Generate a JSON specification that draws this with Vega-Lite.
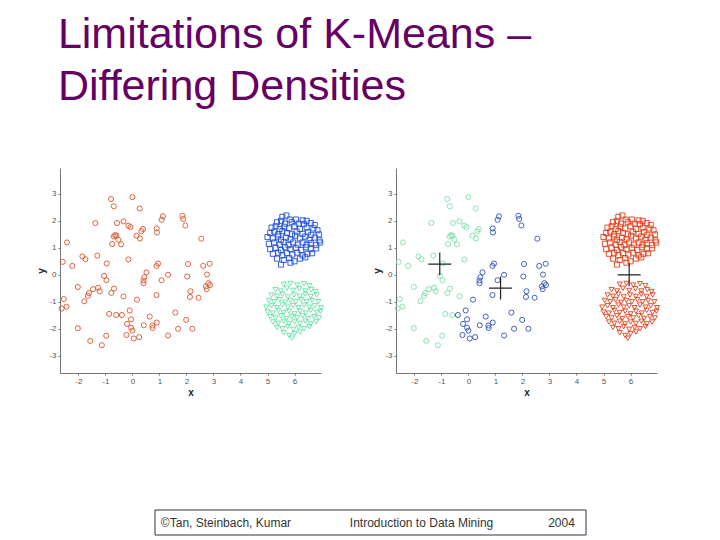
{
  "$schema": "https://vega.github.io/schema/vega-lite/v6.json",
  "background": "white",
  "padding": {"left": 36, "top": 14, "right": 5, "bottom": 5},
  "title": {
    "text": ["Limitations of K-Means –", "Differing Densities"],
    "anchor": "start",
    "font": "Liberation Sans",
    "fontSize": 43,
    "fontWeight": "normal",
    "color": "#660066",
    "lineHeight": 52,
    "dx": 21,
    "offset": 59
  },
  "config": {
    "locale": {"number": {"decimal": ".", "thousands": ",", "grouping": [3], "currency": ["$", ""], "minus": "-"}},
    "view": {"stroke": null},
    "axis": {
      "grid": false,
      "domainColor": "#777777",
      "tickColor": "#777777",
      "tickSize": 2,
      "labelPadding": 2,
      "labelOverlap": false,
      "labelFont": "Liberation Sans",
      "labelFontSize": 8,
      "labelColor": "#555555",
      "titleFont": "Liberation Sans",
      "titleFontSize": 10,
      "titleFontWeight": "bold",
      "titleColor": "#222222",
      "titlePadding": 2
    }
  },
  "datasets": {
    "pts": [
      {"x": -1.06, "y": 0.40, "s": "centroid", "k": "X"},
      {"x": 1.19, "y": -0.49, "s": "centroid", "k": "X"},
      {"x": 5.95, "y": 0.0, "s": "centroid", "k": "X"},
      {"x": -0.79, "y": 2.81, "s": "circle", "k": "A"},
      {"x": -0.69, "y": 2.54, "s": "circle", "k": "A"},
      {"x": 0.0, "y": 2.88, "s": "circle", "k": "A"},
      {"x": 0.27, "y": 2.46, "s": "circle", "k": "A"},
      {"x": -1.37, "y": 1.92, "s": "circle", "k": "A"},
      {"x": -0.57, "y": 1.92, "s": "circle", "k": "A"},
      {"x": -0.33, "y": 1.98, "s": "circle", "k": "A"},
      {"x": -0.15, "y": 1.82, "s": "circle", "k": "A"},
      {"x": -0.07, "y": 1.77, "s": "circle", "k": "A"},
      {"x": 0.39, "y": 1.70, "s": "circle", "k": "A"},
      {"x": 0.33, "y": 1.62, "s": "circle", "k": "A"},
      {"x": 0.15, "y": 1.45, "s": "circle", "k": "A"},
      {"x": 0.28, "y": 1.35, "s": "circle", "k": "A"},
      {"x": 0.9, "y": 1.72, "s": "circle", "k": "B"},
      {"x": 0.91, "y": 1.57, "s": "circle", "k": "B"},
      {"x": 1.13, "y": 2.17, "s": "circle", "k": "B"},
      {"x": 1.08, "y": 2.04, "s": "circle", "k": "B"},
      {"x": 1.85, "y": 2.19, "s": "circle", "k": "B"},
      {"x": 1.88, "y": 2.07, "s": "circle", "k": "B"},
      {"x": 1.96, "y": 1.83, "s": "circle", "k": "B"},
      {"x": 2.55, "y": 1.34, "s": "circle", "k": "B"},
      {"x": -0.64, "y": 1.47, "s": "circle", "k": "A"},
      {"x": -0.59, "y": 1.45, "s": "circle", "k": "A"},
      {"x": -0.69, "y": 1.42, "s": "circle", "k": "A"},
      {"x": -0.52, "y": 1.30, "s": "circle", "k": "A"},
      {"x": -0.42, "y": 1.13, "s": "circle", "k": "A"},
      {"x": -0.75, "y": 1.14, "s": "circle", "k": "A"},
      {"x": -2.42, "y": 1.20, "s": "circle", "k": "A"},
      {"x": -2.58, "y": 0.48, "s": "circle", "k": "A"},
      {"x": -2.23, "y": 0.33, "s": "circle", "k": "A"},
      {"x": -1.85, "y": 0.68, "s": "circle", "k": "A"},
      {"x": -1.74, "y": 0.58, "s": "circle", "k": "A"},
      {"x": -1.30, "y": 0.71, "s": "circle", "k": "A"},
      {"x": -0.95, "y": 0.42, "s": "circle", "k": "A"},
      {"x": -0.15, "y": 0.57, "s": "circle", "k": "A"},
      {"x": 0.89, "y": 0.33, "s": "circle", "k": "B"},
      {"x": 0.95, "y": 0.42, "s": "circle", "k": "B"},
      {"x": 0.52, "y": 0.09, "s": "circle", "k": "B"},
      {"x": 0.44, "y": -0.09, "s": "circle", "k": "B"},
      {"x": 0.41, "y": -0.21, "s": "circle", "k": "B"},
      {"x": 0.41, "y": -0.31, "s": "circle", "k": "B"},
      {"x": 1.32, "y": 0.0, "s": "circle", "k": "B"},
      {"x": 1.08, "y": -0.20, "s": "circle", "k": "B"},
      {"x": 2.06, "y": 0.40, "s": "circle", "k": "B"},
      {"x": 2.03, "y": -0.06, "s": "circle", "k": "B"},
      {"x": 2.62, "y": 0.33, "s": "circle", "k": "B"},
      {"x": 2.86, "y": 0.41, "s": "circle", "k": "B"},
      {"x": 2.76, "y": 0.01, "s": "circle", "k": "B"},
      {"x": 2.81, "y": -0.31, "s": "circle", "k": "B"},
      {"x": 2.72, "y": -0.43, "s": "circle", "k": "B"},
      {"x": 2.75, "y": -0.53, "s": "circle", "k": "B"},
      {"x": 2.87, "y": -0.38, "s": "circle", "k": "B"},
      {"x": -1.05, "y": -0.04, "s": "circle", "k": "A"},
      {"x": -0.96, "y": -0.20, "s": "circle", "k": "A"},
      {"x": -2.02, "y": -0.45, "s": "circle", "k": "A"},
      {"x": -1.46, "y": -0.53, "s": "circle", "k": "A"},
      {"x": -1.27, "y": -0.48, "s": "circle", "k": "A"},
      {"x": -1.21, "y": -0.61, "s": "circle", "k": "A"},
      {"x": -1.61, "y": -0.68, "s": "circle", "k": "A"},
      {"x": -1.65, "y": -0.78, "s": "circle", "k": "A"},
      {"x": -1.78, "y": -0.98, "s": "circle", "k": "A"},
      {"x": -0.68, "y": -0.51, "s": "circle", "k": "A"},
      {"x": -0.78, "y": -0.67, "s": "circle", "k": "A"},
      {"x": -0.33, "y": -0.80, "s": "circle", "k": "A"},
      {"x": -2.54, "y": -0.90, "s": "circle", "k": "A"},
      {"x": -2.44, "y": -1.18, "s": "circle", "k": "A"},
      {"x": -2.62, "y": -1.25, "s": "circle", "k": "A"},
      {"x": 0.17, "y": -0.92, "s": "circle", "k": "B"},
      {"x": 0.89, "y": -0.75, "s": "circle", "k": "B"},
      {"x": 2.15, "y": -0.61, "s": "circle", "k": "B"},
      {"x": 2.13, "y": -0.82, "s": "circle", "k": "B"},
      {"x": 2.45, "y": -0.85, "s": "circle", "k": "B"},
      {"x": -0.86, "y": -1.45, "s": "circle", "k": "A"},
      {"x": -0.60, "y": -1.49, "s": "circle", "k": "A"},
      {"x": -0.39, "y": -1.49, "s": "circle", "k": "B"},
      {"x": -0.10, "y": -1.32, "s": "circle", "k": "B"},
      {"x": -0.05, "y": -1.65, "s": "circle", "k": "B"},
      {"x": 0.64, "y": -1.55, "s": "circle", "k": "B"},
      {"x": 1.59, "y": -1.40, "s": "circle", "k": "B"},
      {"x": -0.20, "y": -1.82, "s": "circle", "k": "B"},
      {"x": -0.05, "y": -1.96, "s": "circle", "k": "B"},
      {"x": 0.0, "y": -2.07, "s": "circle", "k": "B"},
      {"x": 0.42, "y": -1.87, "s": "circle", "k": "B"},
      {"x": 0.74, "y": -1.88, "s": "circle", "k": "B"},
      {"x": 0.90, "y": -1.77, "s": "circle", "k": "B"},
      {"x": 0.75, "y": -1.97, "s": "circle", "k": "B"},
      {"x": 1.99, "y": -1.67, "s": "circle", "k": "B"},
      {"x": 1.69, "y": -2.0, "s": "circle", "k": "B"},
      {"x": 2.22, "y": -2.0, "s": "circle", "k": "B"},
      {"x": -2.02, "y": -1.98, "s": "circle", "k": "A"},
      {"x": -0.97, "y": -2.26, "s": "circle", "k": "A"},
      {"x": -0.22, "y": -2.23, "s": "circle", "k": "B"},
      {"x": 0.25, "y": -2.31, "s": "circle", "k": "B"},
      {"x": 0.05, "y": -2.36, "s": "circle", "k": "B"},
      {"x": 1.32, "y": -2.25, "s": "circle", "k": "B"},
      {"x": -1.56, "y": -2.45, "s": "circle", "k": "A"},
      {"x": -1.13, "y": -2.61, "s": "circle", "k": "A"},

      {"x": 5.55, "y": 2.15, "s": "square", "k": "C"},
      {"x": 5.7, "y": 2.2, "s": "square", "k": "C"},
      {"x": 5.82, "y": 2.05, "s": "square", "k": "C"},
      {"x": 6.05, "y": 2.05, "s": "square", "k": "C"},
      {"x": 6.3, "y": 2.02, "s": "square", "k": "C"},
      {"x": 6.45, "y": 2.0, "s": "square", "k": "C"},
      {"x": 5.35, "y": 1.95, "s": "square", "k": "C"},
      {"x": 5.5, "y": 2.0, "s": "square", "k": "C"},
      {"x": 5.65, "y": 1.9, "s": "square", "k": "C"},
      {"x": 5.9, "y": 1.95, "s": "square", "k": "C"},
      {"x": 6.15, "y": 1.9, "s": "square", "k": "C"},
      {"x": 6.35, "y": 1.88, "s": "square", "k": "C"},
      {"x": 6.6, "y": 1.92, "s": "square", "k": "C"},
      {"x": 6.75, "y": 1.85, "s": "square", "k": "C"},
      {"x": 5.15, "y": 1.75, "s": "square", "k": "C"},
      {"x": 5.3, "y": 1.8, "s": "square", "k": "C"},
      {"x": 5.45, "y": 1.7, "s": "square", "k": "C"},
      {"x": 5.62, "y": 1.78, "s": "square", "k": "C"},
      {"x": 5.8, "y": 1.72, "s": "square", "k": "C"},
      {"x": 6.0, "y": 1.8, "s": "square", "k": "C"},
      {"x": 6.2, "y": 1.7, "s": "square", "k": "C"},
      {"x": 6.45, "y": 1.75, "s": "square", "k": "C"},
      {"x": 6.7, "y": 1.72, "s": "square", "k": "C"},
      {"x": 6.85, "y": 1.65, "s": "square", "k": "C"},
      {"x": 5.1, "y": 1.55, "s": "square", "k": "C"},
      {"x": 5.25, "y": 1.6, "s": "square", "k": "C"},
      {"x": 5.4, "y": 1.5, "s": "square", "k": "C"},
      {"x": 5.55, "y": 1.62, "s": "square", "k": "C"},
      {"x": 5.72, "y": 1.55, "s": "square", "k": "C"},
      {"x": 5.9, "y": 1.5, "s": "square", "k": "C"},
      {"x": 6.08, "y": 1.6, "s": "square", "k": "C"},
      {"x": 6.3, "y": 1.52, "s": "square", "k": "C"},
      {"x": 6.5, "y": 1.58, "s": "square", "k": "C"},
      {"x": 6.62, "y": 1.48, "s": "square", "k": "C"},
      {"x": 6.9, "y": 1.5, "s": "square", "k": "C"},
      {"x": 5.0, "y": 1.4, "s": "square", "k": "C"},
      {"x": 5.2, "y": 1.35, "s": "square", "k": "C"},
      {"x": 5.38, "y": 1.42, "s": "square", "k": "C"},
      {"x": 5.5, "y": 1.3, "s": "square", "k": "C"},
      {"x": 5.68, "y": 1.38, "s": "square", "k": "C"},
      {"x": 5.85, "y": 1.32, "s": "square", "k": "C"},
      {"x": 6.02, "y": 1.45, "s": "square", "k": "C"},
      {"x": 6.2, "y": 1.35, "s": "square", "k": "C"},
      {"x": 6.4, "y": 1.42, "s": "square", "k": "C"},
      {"x": 6.55, "y": 1.3, "s": "square", "k": "C"},
      {"x": 6.75, "y": 1.38, "s": "square", "k": "C"},
      {"x": 6.92, "y": 1.28, "s": "square", "k": "C"},
      {"x": 5.05, "y": 1.15, "s": "square", "k": "C"},
      {"x": 5.25, "y": 1.2, "s": "square", "k": "C"},
      {"x": 5.45, "y": 1.12, "s": "square", "k": "C"},
      {"x": 5.6, "y": 1.22, "s": "square", "k": "C"},
      {"x": 5.78, "y": 1.1, "s": "square", "k": "C"},
      {"x": 5.95, "y": 1.2, "s": "square", "k": "C"},
      {"x": 6.12, "y": 1.12, "s": "square", "k": "C"},
      {"x": 6.3, "y": 1.2, "s": "square", "k": "C"},
      {"x": 6.45, "y": 1.12, "s": "square", "k": "C"},
      {"x": 6.6, "y": 1.18, "s": "square", "k": "C"},
      {"x": 6.8, "y": 1.1, "s": "square", "k": "C"},
      {"x": 6.95, "y": 1.2, "s": "square", "k": "C"},
      {"x": 5.1, "y": 0.95, "s": "square", "k": "C"},
      {"x": 5.3, "y": 1.0, "s": "square", "k": "C"},
      {"x": 5.5, "y": 0.92, "s": "square", "k": "C"},
      {"x": 5.65, "y": 1.02, "s": "square", "k": "C"},
      {"x": 5.85, "y": 0.95, "s": "square", "k": "C"},
      {"x": 6.05, "y": 1.0, "s": "square", "k": "C"},
      {"x": 6.25, "y": 0.92, "s": "square", "k": "C"},
      {"x": 6.42, "y": 1.02, "s": "square", "k": "C"},
      {"x": 6.6, "y": 0.95, "s": "square", "k": "C"},
      {"x": 6.8, "y": 0.98, "s": "square", "k": "C"},
      {"x": 5.2, "y": 0.78, "s": "square", "k": "C"},
      {"x": 5.4, "y": 0.82, "s": "square", "k": "C"},
      {"x": 5.55, "y": 0.72, "s": "square", "k": "C"},
      {"x": 5.72, "y": 0.8, "s": "square", "k": "C"},
      {"x": 5.92, "y": 0.75, "s": "square", "k": "C"},
      {"x": 6.1, "y": 0.82, "s": "square", "k": "C"},
      {"x": 6.3, "y": 0.72, "s": "square", "k": "C"},
      {"x": 6.48, "y": 0.78, "s": "square", "k": "C"},
      {"x": 6.65, "y": 0.8, "s": "square", "k": "C"},
      {"x": 5.35, "y": 0.6, "s": "square", "k": "C"},
      {"x": 5.6, "y": 0.55, "s": "square", "k": "C"},
      {"x": 5.8, "y": 0.62, "s": "square", "k": "C"},
      {"x": 6.0, "y": 0.5, "s": "square", "k": "C"},
      {"x": 6.2, "y": 0.6, "s": "square", "k": "C"},
      {"x": 6.4, "y": 0.65, "s": "square", "k": "C"},
      {"x": 5.5, "y": 0.38, "s": "square", "k": "C"},
      {"x": 5.85, "y": 0.45, "s": "square", "k": "C"},

      {"x": 5.6, "y": -0.35, "s": "triangle", "k": "C"},
      {"x": 5.85, "y": -0.32, "s": "triangle", "k": "C"},
      {"x": 6.1, "y": -0.38, "s": "triangle", "k": "C"},
      {"x": 6.35, "y": -0.33, "s": "triangle", "k": "C"},
      {"x": 6.55, "y": -0.4, "s": "triangle", "k": "C"},
      {"x": 5.3, "y": -0.55, "s": "triangle", "k": "C"},
      {"x": 5.5, "y": -0.6, "s": "triangle", "k": "C"},
      {"x": 5.72, "y": -0.5, "s": "triangle", "k": "C"},
      {"x": 5.95, "y": -0.58, "s": "triangle", "k": "C"},
      {"x": 6.18, "y": -0.52, "s": "triangle", "k": "C"},
      {"x": 6.4, "y": -0.6, "s": "triangle", "k": "C"},
      {"x": 6.62, "y": -0.55, "s": "triangle", "k": "C"},
      {"x": 6.78, "y": -0.62, "s": "triangle", "k": "C"},
      {"x": 5.15, "y": -0.75, "s": "triangle", "k": "C"},
      {"x": 5.35, "y": -0.8, "s": "triangle", "k": "C"},
      {"x": 5.55, "y": -0.72, "s": "triangle", "k": "C"},
      {"x": 5.75, "y": -0.82, "s": "triangle", "k": "C"},
      {"x": 5.98, "y": -0.75, "s": "triangle", "k": "C"},
      {"x": 6.2, "y": -0.8, "s": "triangle", "k": "C"},
      {"x": 6.4, "y": -0.72, "s": "triangle", "k": "C"},
      {"x": 6.6, "y": -0.8, "s": "triangle", "k": "C"},
      {"x": 6.82, "y": -0.75, "s": "triangle", "k": "C"},
      {"x": 5.05, "y": -0.95, "s": "triangle", "k": "C"},
      {"x": 5.25, "y": -1.0, "s": "triangle", "k": "C"},
      {"x": 5.45, "y": -0.92, "s": "triangle", "k": "C"},
      {"x": 5.65, "y": -1.02, "s": "triangle", "k": "C"},
      {"x": 5.85, "y": -0.95, "s": "triangle", "k": "C"},
      {"x": 6.05, "y": -1.0, "s": "triangle", "k": "C"},
      {"x": 6.25, "y": -0.92, "s": "triangle", "k": "C"},
      {"x": 6.45, "y": -1.0, "s": "triangle", "k": "C"},
      {"x": 6.65, "y": -0.95, "s": "triangle", "k": "C"},
      {"x": 6.88, "y": -1.0, "s": "triangle", "k": "C"},
      {"x": 4.95, "y": -1.2, "s": "triangle", "k": "C"},
      {"x": 5.15, "y": -1.15, "s": "triangle", "k": "C"},
      {"x": 5.35, "y": -1.22, "s": "triangle", "k": "C"},
      {"x": 5.55, "y": -1.12, "s": "triangle", "k": "C"},
      {"x": 5.75, "y": -1.2, "s": "triangle", "k": "C"},
      {"x": 5.95, "y": -1.15, "s": "triangle", "k": "C"},
      {"x": 6.15, "y": -1.22, "s": "triangle", "k": "C"},
      {"x": 6.35, "y": -1.12, "s": "triangle", "k": "C"},
      {"x": 6.55, "y": -1.2, "s": "triangle", "k": "C"},
      {"x": 6.75, "y": -1.15, "s": "triangle", "k": "C"},
      {"x": 6.98, "y": -1.22, "s": "triangle", "k": "C"},
      {"x": 5.0, "y": -1.38, "s": "triangle", "k": "C"},
      {"x": 5.2, "y": -1.42, "s": "triangle", "k": "C"},
      {"x": 5.4, "y": -1.32, "s": "triangle", "k": "C"},
      {"x": 5.6, "y": -1.4, "s": "triangle", "k": "C"},
      {"x": 5.8, "y": -1.35, "s": "triangle", "k": "C"},
      {"x": 6.0, "y": -1.45, "s": "triangle", "k": "C"},
      {"x": 6.2, "y": -1.35, "s": "triangle", "k": "C"},
      {"x": 6.42, "y": -1.42, "s": "triangle", "k": "C"},
      {"x": 6.6, "y": -1.32, "s": "triangle", "k": "C"},
      {"x": 6.82, "y": -1.4, "s": "triangle", "k": "C"},
      {"x": 6.96, "y": -1.35, "s": "triangle", "k": "C"},
      {"x": 5.1, "y": -1.55, "s": "triangle", "k": "C"},
      {"x": 5.3, "y": -1.6, "s": "triangle", "k": "C"},
      {"x": 5.5, "y": -1.52, "s": "triangle", "k": "C"},
      {"x": 5.7, "y": -1.62, "s": "triangle", "k": "C"},
      {"x": 5.9, "y": -1.55, "s": "triangle", "k": "C"},
      {"x": 6.1, "y": -1.6, "s": "triangle", "k": "C"},
      {"x": 6.3, "y": -1.52, "s": "triangle", "k": "C"},
      {"x": 6.5, "y": -1.62, "s": "triangle", "k": "C"},
      {"x": 6.72, "y": -1.55, "s": "triangle", "k": "C"},
      {"x": 6.9, "y": -1.6, "s": "triangle", "k": "C"},
      {"x": 5.2, "y": -1.75, "s": "triangle", "k": "C"},
      {"x": 5.4, "y": -1.8, "s": "triangle", "k": "C"},
      {"x": 5.6, "y": -1.72, "s": "triangle", "k": "C"},
      {"x": 5.8, "y": -1.82, "s": "triangle", "k": "C"},
      {"x": 6.0, "y": -1.75, "s": "triangle", "k": "C"},
      {"x": 6.2, "y": -1.8, "s": "triangle", "k": "C"},
      {"x": 6.4, "y": -1.72, "s": "triangle", "k": "C"},
      {"x": 6.6, "y": -1.82, "s": "triangle", "k": "C"},
      {"x": 6.8, "y": -1.75, "s": "triangle", "k": "C"},
      {"x": 5.35, "y": -1.95, "s": "triangle", "k": "C"},
      {"x": 5.55, "y": -2.0, "s": "triangle", "k": "C"},
      {"x": 5.75, "y": -1.92, "s": "triangle", "k": "C"},
      {"x": 5.95, "y": -2.02, "s": "triangle", "k": "C"},
      {"x": 6.15, "y": -1.95, "s": "triangle", "k": "C"},
      {"x": 6.35, "y": -2.0, "s": "triangle", "k": "C"},
      {"x": 6.55, "y": -1.92, "s": "triangle", "k": "C"},
      {"x": 5.6, "y": -2.15, "s": "triangle", "k": "C"},
      {"x": 5.8, "y": -2.25, "s": "triangle", "k": "C"},
      {"x": 6.0, "y": -2.18, "s": "triangle", "k": "C"},
      {"x": 6.2, "y": -2.12, "s": "triangle", "k": "C"},
      {"x": 5.9, "y": -2.35, "s": "triangle", "k": "C"}
    ],
    "footer": [
      {"pos": 0.2785, "label": "©Tan, Steinbach, Kumar"},
      {"pos": 0.6066, "label": "Introduction to Data Mining"},
      {"pos": 0.8414, "label": "2004"}
    ],
    "footerbox": [
      {"left": 0.1594, "right": 0.8826, "bottom": 0, "top": 1}
    ]
  },
  "vconcat": [
    {
      "hconcat": [
        {
          "width": 261,
          "height": 205,
          "data": {"name": "pts"},
          "transform": [{"filter": "datum.s != 'centroid'"}],
          "mark": {"type": "point", "filled": false, "size": 26, "strokeWidth": 0.9, "opacity": 1},
          "encoding": {
            "x": {"field": "x", "type": "quantitative", "title": "x",
                  "scale": {"domain": [-2.68, 6.98], "nice": false, "zero": false},
                  "axis": {"values": [-2, -1, 0, 1, 2, 3, 4, 5, 6]}},
            "y": {"field": "y", "type": "quantitative", "title": "y",
                  "scale": {"domain": [-3.64, 3.96], "nice": false, "zero": false},
                  "axis": {"values": [-3, -2, -1, 0, 1, 2, 3]}},
            "color": {"field": "s", "type": "nominal", "legend": null,
                      "scale": {"domain": ["circle", "square", "triangle"], "range": ["#d9542c", "#2050d8", "#66e0a8"]}},
            "shape": {"field": "s", "type": "nominal", "legend": null,
                      "scale": {"domain": ["circle", "square", "triangle"], "range": ["circle", "square", "triangle-down"]}}
          }
        },
        {
          "width": 261,
          "height": 205,
          "data": {"name": "pts"},
          "layer": [
            {
              "transform": [{"filter": "datum.s != 'centroid'"}],
              "mark": {"type": "point", "filled": false, "size": 26, "strokeWidth": 0.9, "opacity": 1},
              "encoding": {
                "x": {"field": "x", "type": "quantitative", "title": "x",
                      "scale": {"domain": [-2.68, 6.98], "nice": false, "zero": false},
                      "axis": {"values": [-2, -1, 0, 1, 2, 3, 4, 5, 6]}},
                "y": {"field": "y", "type": "quantitative", "title": "y",
                      "scale": {"domain": [-3.64, 3.96], "nice": false, "zero": false},
                      "axis": {"values": [-3, -2, -1, 0, 1, 2, 3]}},
                "color": {"field": "k", "type": "nominal", "legend": null,
                          "scale": {"domain": ["A", "B", "C"], "range": ["#80dca8", "#3050b8", "#e2401a"]}},
                "shape": {"field": "s", "type": "nominal", "legend": null,
                          "scale": {"domain": ["circle", "square", "triangle"], "range": ["circle", "square", "triangle-down"]}}
              }
            },
            {
              "transform": [{"filter": "datum.s == 'centroid'"}],
              "mark": {"type": "point", "shape": "M-1,0H1M0,-1V1", "size": 529, "filled": false, "stroke": "#222222", "strokeWidth": 1.2, "opacity": 1},
              "encoding": {
                "x": {"field": "x", "type": "quantitative", "axis": null},
                "y": {"field": "y", "type": "quantitative", "axis": null}
              }
            }
          ],
          "resolve": {"axis": {"x": "independent", "y": "independent"}}
        }
      ],
      "spacing": 46,
      "resolve": {"scale": {"color": "independent", "shape": "independent", "x": "independent", "y": "independent"}}
    },
    {
      "width": 596,
      "height": 25,
      "layer": [
        {
          "data": {"name": "footerbox"},
          "mark": {"type": "rect", "fill": null, "stroke": "#333344", "strokeWidth": 1},
          "encoding": {
            "x": {"field": "left", "type": "quantitative", "scale": {"domain": [0, 1], "nice": false, "zero": false}, "axis": null},
            "x2": {"field": "right"},
            "y": {"field": "bottom", "type": "quantitative", "scale": {"domain": [0, 1], "nice": false}, "axis": null},
            "y2": {"field": "top"}
          }
        },
        {
          "data": {"name": "footer"},
          "mark": {"type": "text", "font": "Liberation Sans", "fontSize": 12, "color": "#333333", "baseline": "middle", "align": "center"},
          "encoding": {
            "x": {"field": "pos", "type": "quantitative", "scale": {"domain": [0, 1], "nice": false, "zero": false}, "axis": null},
            "text": {"field": "label"}
          }
        }
      ]
    }
  ],
  "spacing": 112
}
